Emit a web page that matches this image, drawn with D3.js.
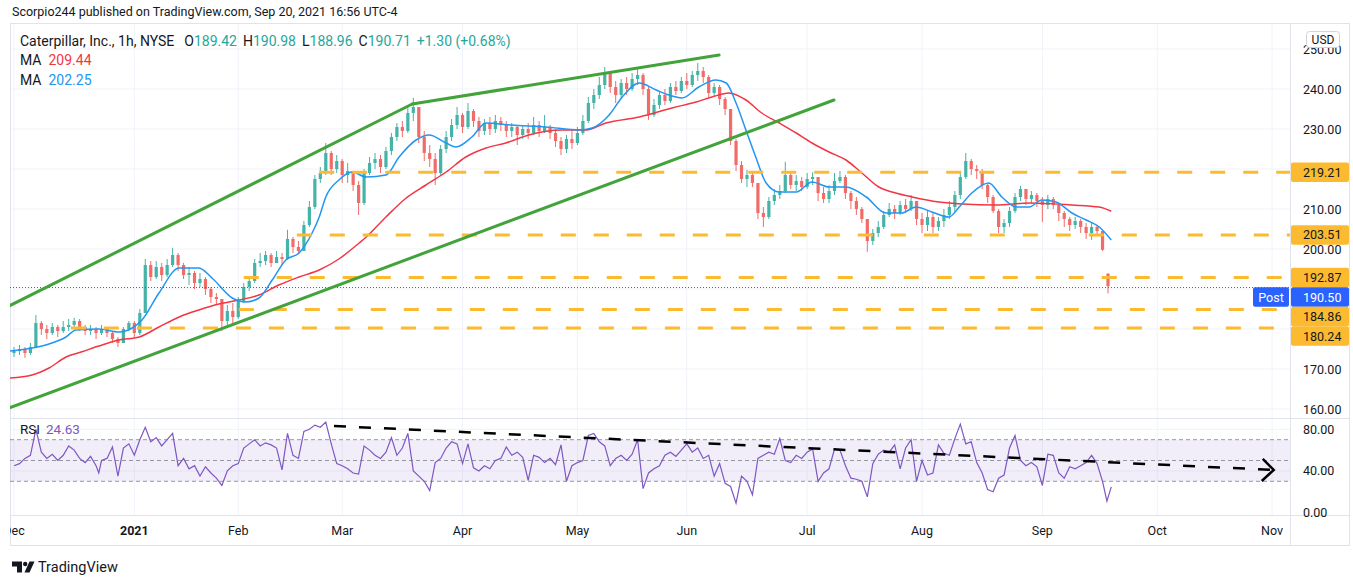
<!DOCTYPE html>
<html><head><meta charset="utf-8">
<script src="https://cdn.jsdelivr.net/npm/d3@7/dist/d3.min.js"></script>
<style>body{margin:0;background:#fff;overflow:hidden}svg{display:block;font-family:Roboto,"Noto Sans",sans-serif}</style>
</head><body><svg id="c" width="1353" height="579"></svg>
<script>
// ---------- DATA (trading-day index 0 = 1 Dec 2020, 200 = 20 Sep 2021) ----------
const closes = [174.5,175.0,174.0,175.5,181.5,180.0,179.0,180.5,179.5,180.5,
181.0,182.0,180.5,179.5,180.0,179.0,180.0,179.0,177.5,176.5,
180.0,181.5,179.0,184.0,196.0,193.0,195.5,193.5,196.0,198.5,
196.0,193.5,194.0,191.5,192.5,190.0,188.0,187.5,182.0,184.5,
183.0,187.0,190.5,192.0,196.5,197.0,198.5,196.5,198.0,197.5,
202.5,200.5,199.5,206.0,210.5,217.5,219.0,224.0,220.0,222.0,
218.5,219.5,216.0,211.5,219.0,221.5,222.5,220.5,224.5,228.0,
230.5,229.5,234.0,235.5,228.0,224.0,222.5,219.0,225.0,228.0,
231.0,233.5,230.5,234.5,232.0,229.5,231.5,230.0,232.0,231.0,
229.5,230.5,228.5,230.0,229.0,231.0,229.5,230.5,229.0,227.0,
225.0,227.5,226.5,229.0,232.0,236.5,238.5,241.0,244.0,240.5,
238.5,241.5,240.0,242.5,243.5,240.0,233.5,236.0,238.5,237.0,
240.5,239.5,242.0,241.0,243.5,244.5,243.0,239.0,240.5,237.5,
235.0,227.0,221.0,217.5,218.5,216.5,209.0,208.0,212.0,213.5,
214.5,218.5,216.0,217.0,215.5,217.5,218.0,214.0,212.5,214.5,
217.0,218.0,214.0,212.0,210.0,207.5,202.0,204.0,205.5,208.5,
210.0,209.0,211.0,210.0,212.0,207.5,206.0,208.0,205.5,207.0,
208.5,210.5,213.5,218.0,222.0,220.0,219.5,216.0,213.0,209.5,
205.5,206.5,209.5,213.0,215.0,212.5,213.5,212.0,211.0,212.5,
211.0,209.0,207.5,206.0,207.0,205.5,204.0,205.5,204.5,199.8,
190.7];
const opens = [174.0,174.5,175.0,174.0,175.5,181.5,180.0,179.0,180.5,179.5,
180.5,181.0,182.0,180.5,179.5,180.0,179.0,180.0,179.0,177.5,
176.5,180.0,181.5,179.0,184.0,196.0,193.0,195.5,193.5,196.0,
198.5,196.0,193.5,194.0,191.5,192.5,190.0,188.0,187.5,182.0,
184.5,183.0,187.0,190.5,192.0,196.5,197.0,198.5,196.5,198.0,
197.5,202.5,200.5,199.5,206.0,210.5,217.5,219.0,224.0,220.0,
222.0,218.5,219.5,216.0,211.5,219.0,221.5,222.5,220.5,224.5,
228.0,230.5,229.5,234.0,235.5,228.0,224.0,222.5,219.0,225.0,
228.0,231.0,233.5,230.5,234.5,232.0,229.5,231.5,230.0,232.0,
231.0,229.5,230.5,228.5,230.0,229.0,231.0,229.5,230.5,229.0,
227.0,225.0,227.5,226.5,229.0,232.0,236.5,238.5,241.0,244.0,
240.5,238.5,241.5,240.0,242.5,243.5,240.0,233.5,236.0,238.5,
237.0,240.5,239.5,242.0,241.0,243.5,244.5,243.0,239.0,240.5,
237.5,235.0,227.0,221.0,217.5,218.5,216.5,209.0,208.0,212.0,
213.5,214.5,218.5,216.0,217.0,215.5,217.5,218.0,214.0,212.5,
214.5,217.0,218.0,214.0,212.0,210.0,207.5,202.0,204.0,205.5,
208.5,210.0,209.0,211.0,210.0,212.0,207.5,206.0,208.0,205.5,
207.0,208.5,210.5,213.5,218.0,222.0,220.0,219.5,216.0,213.0,
209.5,205.5,206.5,209.5,213.0,215.0,212.5,213.5,212.0,211.0,
212.5,211.0,209.0,207.5,206.0,207.0,205.5,204.0,205.5,204.5,
193.8];
const highs = [175.5,176.0,175.5,176.5,183.5,182.0,181.0,181.5,181.0,182.0,
182.5,182.8,182.5,181.0,181.0,180.5,181.0,180.5,179.5,178.0,
180.5,182.0,182.0,185.0,197.5,197.0,197.0,196.5,197.5,200.3,
199.0,196.5,195.5,194.5,194.0,193.0,190.5,189.0,187.5,186.0,
186.5,188.0,191.5,193.0,197.5,199.0,199.5,199.0,199.5,199.0,
204.8,203.0,202.0,207.0,212.0,218.5,220.5,226.5,224.5,223.5,
222.5,221.5,219.5,217.0,220.0,223.0,224.0,223.5,225.5,229.0,
231.5,232.0,236.0,237.8,235.5,229.5,226.0,224.0,226.0,229.5,
232.5,235.5,234.0,236.5,235.0,233.0,232.5,233.0,233.5,233.0,
232.0,231.5,231.0,231.0,231.5,233.0,232.0,233.5,231.0,230.0,
228.0,228.5,229.5,230.5,233.5,238.0,240.0,243.0,245.5,244.5,
242.0,242.5,243.0,244.0,245.3,244.0,240.5,237.5,239.5,240.0,
241.5,242.0,243.0,244.0,244.5,246.5,245.5,243.5,241.5,241.0,
238.0,235.0,227.5,222.0,219.8,219.5,216.5,210.5,213.0,215.0,
216.0,221.8,219.5,218.5,218.0,219.0,219.2,218.0,215.5,216.0,
219.0,219.5,218.5,214.5,213.0,210.5,207.5,205.0,207.0,209.5,
211.5,211.0,212.0,212.5,213.5,212.0,209.0,209.5,209.0,208.0,
210.0,212.0,214.5,219.5,224.0,222.5,221.0,220.0,216.5,213.5,
210.0,207.5,210.5,214.0,215.8,215.0,214.5,214.0,213.0,213.5,
213.0,211.5,209.5,208.0,208.0,207.5,206.5,206.5,206.0,204.5,
194.0];
const lows = [173.0,173.5,172.8,173.5,175.5,178.5,177.5,178.5,178.0,179.0,
179.5,180.0,179.5,178.5,178.5,177.5,178.5,178.0,176.5,175.5,
176.5,179.5,178.0,178.5,184.0,192.0,192.5,192.0,193.0,195.5,
194.5,192.5,191.0,190.0,190.5,188.5,186.5,186.0,179.5,180.5,
181.0,182.5,186.5,189.5,191.5,195.5,196.0,195.5,196.5,196.0,
197.5,199.0,198.8,199.5,205.5,210.0,216.5,218.5,218.5,219.0,
216.5,216.5,214.5,208.5,211.0,218.5,220.0,219.0,220.0,223.5,
227.0,228.0,229.0,232.0,226.5,222.0,220.5,216.0,218.5,224.0,
227.0,230.0,229.0,230.0,230.5,228.0,228.5,228.5,229.0,229.5,
228.0,228.0,226.0,227.5,227.5,228.5,228.0,229.0,227.5,225.5,
223.5,224.0,225.0,226.0,228.5,231.5,235.0,237.5,240.0,239.0,
236.5,237.5,238.5,239.5,241.0,238.5,232.3,233.0,235.0,236.0,
236.5,238.5,239.0,240.0,240.5,242.0,241.5,238.0,238.0,236.0,
233.5,226.0,219.5,216.5,215.5,215.5,207.5,205.5,207.5,211.0,
212.5,214.0,215.0,214.5,214.5,215.0,216.0,212.0,211.5,211.5,
213.5,216.5,212.5,210.0,208.5,206.5,199.3,201.0,203.0,205.0,
208.0,207.5,208.5,209.0,209.5,206.0,204.0,204.5,204.0,204.5,
205.5,207.5,209.0,212.5,217.5,218.5,217.5,215.0,211.5,209.0,
204.0,204.0,205.5,209.0,212.0,211.0,211.5,210.5,206.8,210.0,
210.0,207.0,205.5,204.5,205.0,204.0,202.5,202.3,203.5,199.5,
188.9];
// moving averages: [day, value]
const maRed = [[-0.8,167.75],[3.3,168.5],[6.4,170.25],[9.5,173],[12.4,174.3],[15.5,175.75],[19.2,177.25],[22.9,178],[26.5,180.5],[30.2,183],[33.8,184.75],[37.5,186.25],[41.1,187.25],[44.8,188.5],[48.4,191],[52.1,193],[55.8,194.75],[59.4,197.5],[63.1,201.5],[64.4,203],[68,208],[71.7,212.75],[75.3,216],[79,219.25],[82.6,223],[86.3,225.25],[89.9,226.5],[94.1,228.5],[100.2,229.75],[104.6,229.75],[108.2,231.5],[114.3,233],[120.3,235.25],[124.7,236.75],[127.6,238],[130.7,239],[133.8,237.25],[136.7,234],[139.9,231.5],[143,229],[145.9,226.5],[149,224.25],[152.1,222.25],[155,219],[158.1,215.5],[161.2,214],[164.2,213],[169.1,211.75],[173.3,211.25],[179.5,211],[185.6,211.5],[193.4,211],[198.4,210.5],[200.6,209.44]];
const maBlue = [[-0.8,174.5],[3.3,175.25],[6.4,176.25],[9.5,178],[11.3,179.75],[15.5,180],[19.2,179.25],[21.6,180.25],[23.4,182.25],[26.5,189],[30.2,195.25],[33.8,195.25],[36.2,192.75],[39.9,187.75],[42.4,186.75],[44.8,187.75],[47.2,192.25],[49.7,197.25],[52.1,199],[54.5,204],[55.8,208],[57,213],[59.4,217.25],[61.8,219.25],[64.4,218],[68,218.5],[70.4,223],[73.5,227.25],[75.9,228.5],[79,226.5],[80.8,225.5],[83.7,228],[86.3,231.5],[91,231],[97.3,230.5],[103.3,229.75],[105.7,230.25],[108.8,233.5],[111.2,238],[114.3,241.5],[117.4,239.75],[119.7,238.5],[122.1,237.75],[125.2,240.5],[128.3,242.25],[130.2,241.5],[132,236.5],[133.8,229.75],[135.6,223],[137.5,216.5],[139.9,214.25],[143,214.25],[145.9,216.75],[149,215.5],[152.1,215.5],[155.8,213],[159.4,209],[162.3,209],[164.9,210.5],[167.8,209.25],[170.9,208],[172.8,210.5],[175.1,214],[178.2,216.5],[180.6,213],[183.2,210.5],[185.6,210.5],[187.9,212.25],[190.5,211.75],[193.4,209],[196,207.25],[198.4,205.5],[200.6,202.25]];
// RSI(14): [day, value]
const rsi = [[0,45],[1,47],[2,52],[3,55],[4,80],[5,58],[6,52],[7,56],[8,50],[9,55],[10,64],[11,60],[12,52],[13,48],[14,54],[15,45],[15.5,38],[16,50],[17,52],[18,63],[19,35],
[20,62],[21,66],[22,55],[23,70],[24,82],[25,68],[26,72],[27,64],[28,70],[29,76],[30,45],[31,52],[32,42],[33,45],[34,35],[35,44],[36,38],[37,33],[38,26],[39,40],
[40,45],[41,47],[42,62],[43,66],[44,70],[45,64],[46,67],[47,65],[48,62],[49,41],[50,76],[51,55],[52,52],[53,78],[54,80],[55,84],[56,82],[57,87],[58,66],[59,47],
[60,45],[61,42],[62,38],[63,37],[64,64],[65,60],[66,55],[67,52],[68,58],[69,72],[70,55],[71,62],[72,76],[73,40],[74,35],[75,30],[76,21],[77,48],[78,52],[79,62],
[80,68],[81,66],[82,47],[83,66],[84,43],[85,40],[86,45],[87,42],[88,50],[89,52],[90,63],[91,55],[92,58],[93,53],[94,31],[95,55],[96,53],[97,48],[98,52],[99,46],
[100,65],[101,30],[102,45],[103,48],[104,50],[105,74],[106,76],[107,68],[108,64],[109,45],[110,52],[111,55],[112,50],[113,56],[114,70],[115,23],[116,38],[117,42],[118,45],[119,55],
[120,58],[121,54],[122,60],[123,66],[124,58],[125,62],[126,52],[127,55],[128,35],[129,47],[130,28],[131,25],[132,9],[133,35],[134,30],[135,17],[136,52],[137,55],[138,58],[139,56],
[140,71],[141,50],[142,48],[143,55],[144,52],[145,58],[146,61],[147,30],[148,38],[149,42],[150,61],[151,60],[152,45],[153,33],[154,32],[155,30],[156,15],[157,47],[158,56],[159,60],
[160,58],[161,65],[162,42],[163,62],[164,70],[165,30],[166,50],[167,36],[168,38],[169,65],[170,57],[171,55],[172,71],[173,85],[174,66],[175,68],[176,48],[177,38],[178,22],[179,20],
[180,33],[181,36],[182,62],[183,74],[184,50],[185,45],[186,48],[187,44],[188,26],[189,56],[190,55],[191,38],[192,33],[193,44],[194,42],[195,45],[196,48],[197,55],[198,47],[199,30],
[199.8,11],[200.6,24.63]];
// horizontal levels: [price, start day]
const levels = [[219.21,55.8],[203.51,51.7],[192.87,42.0],[184.86,41.1],[180.24,10.4]];
const lastPrice = 190.50;
// channel trend lines: [[day,price],[day,price]]
const trendLines = [[[-0.9,160.25],[149.9,237.25]],[[-0.9,185.75],[72.8,236.25]],[[72.8,236.25],[128.9,248.5]]];
const rsiTrend = [[58.5,83.2],[230.3,40.9]];
const monthTicks = [["Dec",0],["2021",22],["Feb",41],["Mar",60],["Apr",82],["May",103],["Jun",123],["Jul",145],["Aug",166],["Sep",188],["Oct",209],["Nov",230]];
const priceTicks = [160,170,180,190,200,210,220,230,240,250];
const priceTickLabels = [160,170,200,210,230,240,250];
const rsiTicks = [0,40,80];
const legendOHLC = [["O","189.42"],["H","190.98"],["L","188.96"],["C","190.71"]];

// ---------- LAYOUT ----------
const svg = d3.select("#c");
const L=10, R=1290, RE=1350, T=23, MB=418, RB=515, AB=546;
const x = d3.scaleLinear().domain([0,230]).range([14,14+230*5.47]);
const y = d3.scaleLinear().domain([160,250]).range([409,49]);
const yr = d3.scaleLinear().domain([0,80]).range([512.5,429.3]);
const grid = "#f0f3fa", border = "#e0e3eb", txt = "#131722";
const up="#26a69a", dn="#ef5350", redMA="#f23645", blueMA="#2196f3", orange="#fbba2f", green="#43a33b", purple="#7e57c2";

svg.append("text").attr("x",12).attr("y",16).attr("font-size",12.5).attr("fill",txt).text("Scorpio244 published on TradingView.com, Sep 20, 2021 16:56 UTC-4");

const defs = svg.append("defs");
defs.append("clipPath").attr("id","cm").append("rect").attr("x",L).attr("y",T).attr("width",R-L).attr("height",MB-T);
defs.append("clipPath").attr("id","cr").append("rect").attr("x",L).attr("y",MB).attr("width",R-L).attr("height",RB-MB);
defs.append("clipPath").attr("id","cx").append("rect").attr("x",L).attr("y",RB).attr("width",R-L).attr("height",AB-RB);

// grid
const g = svg.append("g");
g.selectAll(".hg").data(priceTicks).join("line").attr("x1",L).attr("x2",R).attr("y1",d=>y(d)).attr("y2",d=>y(d)).attr("stroke",grid);
g.selectAll(".rg").data([40,80]).join("line").attr("x1",L).attr("x2",R).attr("y1",d=>yr(d)).attr("y2",d=>yr(d)).attr("stroke",grid);
g.selectAll(".vg").data(monthTicks).join("line").attr("x1",d=>x(d[1])).attr("x2",d=>x(d[1])).attr("y1",T).attr("y2",RB).attr("stroke",grid);

// frame
svg.append("rect").attr("x",L+0.5).attr("y",T+0.5).attr("width",RE-L-1).attr("height",AB-T-1).attr("fill","none").attr("stroke",border);
svg.append("line").attr("x1",L).attr("x2",RE).attr("y1",MB+0.5).attr("y2",MB+0.5).attr("stroke",border);
svg.append("line").attr("x1",L).attr("x2",RE).attr("y1",RB+0.5).attr("y2",RB+0.5).attr("stroke",border);
svg.append("line").attr("x1",R+0.5).attr("x2",R+0.5).attr("y1",T).attr("y2",AB).attr("stroke",border);

// candles
const main = svg.append("g").attr("clip-path","url(#cm)");
const candles = closes.map((c,i)=>({i,o:opens[i],h:Math.max(highs[i],opens[i],c),l:Math.min(lows[i],opens[i],c),c}));
const cg = main.append("g").attr("opacity",0.85);
cg.selectAll("line").data(candles).join("line").attr("x1",d=>x(d.i)).attr("x2",d=>x(d.i)).attr("y1",d=>y(d.h)).attr("y2",d=>y(d.l)).attr("stroke",d=>d.c>=d.o?up:dn).attr("stroke-width",1);
cg.selectAll("rect").data(candles).join("rect").attr("x",d=>x(d.i)-1.6).attr("width",3.2).attr("y",d=>y(Math.max(d.o,d.c))).attr("height",d=>Math.max(1,Math.abs(y(d.o)-y(d.c)))).attr("fill",d=>d.c>=d.o?up:dn);

// MAs
const ln = d3.line().x(d=>x(d[0])).y(d=>y(d[1])).curve(d3.curveMonotoneX);
main.append("path").attr("d",ln(maRed)).attr("fill","none").attr("stroke",redMA).attr("stroke-width",1.5);
main.append("path").attr("d",ln(maBlue)).attr("fill","none").attr("stroke",blueMA).attr("stroke-width",1.5);

// last price dotted line
main.append("line").attr("x1",L).attr("x2",R).attr("y1",Math.round(y(lastPrice))+0.5).attr("y2",Math.round(y(lastPrice))+0.5).attr("stroke","#2962ff").attr("stroke-dasharray","1,2");

// levels
main.selectAll(".lv").data(levels).join("line").attr("x1",d=>x(d[1])).attr("x2",R).attr("y1",d=>y(d[0])).attr("y2",d=>y(d[0])).attr("stroke",orange).attr("stroke-width",3).attr("stroke-dasharray","15,18");
// trend lines
main.selectAll(".tl").data(trendLines).join("line").attr("x1",d=>x(d[0][0])).attr("y1",d=>y(d[0][1])).attr("x2",d=>x(d[1][0])).attr("y2",d=>y(d[1][1])).attr("stroke",green).attr("stroke-width",3).attr("stroke-linecap","round");

// RSI pane
const rp = svg.append("g").attr("clip-path","url(#cr)");
rp.append("rect").attr("x",L).attr("width",R-L).attr("y",yr(70)).attr("height",yr(30)-yr(70)).attr("fill","rgba(126,87,194,0.1)");
rp.selectAll(".rl").data([70,50,30]).join("line").attr("x1",L).attr("x2",R).attr("y1",d=>yr(d)).attr("y2",d=>yr(d)).attr("stroke","#9598a1").attr("stroke-dasharray","4,3");
const rl = d3.line().x(d=>x(d[0])).y(d=>yr(d[1]));
rp.append("path").attr("d",rl(rsi)).attr("fill","none").attr("stroke",purple).attr("stroke-width",1.2);
rp.append("line").attr("x1",x(rsiTrend[0][0])).attr("y1",yr(rsiTrend[0][1])).attr("x2",x(rsiTrend[1][0])).attr("y2",yr(rsiTrend[1][1])).attr("stroke","#000").attr("stroke-width",2.5).attr("stroke-dasharray","12,13");
{
  const ex=x(rsiTrend[1][0]), ey=yr(rsiTrend[1][1]);
  rp.append("path").attr("d",`M${ex-11},${ey-11}L${ex},${ey}L${ex-12},${ey+11}`).attr("fill","none").attr("stroke","#000").attr("stroke-width",2.5);
}

// x axis labels
svg.append("g").attr("clip-path","url(#cx)").selectAll("text").data(monthTicks).join("text")
  .attr("x",d=>x(d[1])).attr("y",535).attr("text-anchor","middle").attr("font-size",12.5).attr("fill",txt)
  .attr("font-weight",d=>d[0]==="2021"?"bold":"normal").text(d=>d[0]);

// price axis labels (ticks hidden behind level boxes are not drawn)
svg.selectAll(".pt").data(priceTickLabels).join("text").attr("x",1303).attr("y",d=>y(d)+4.5).attr("font-size",12.5).attr("fill",txt).text(d=>d.toFixed(2));
svg.selectAll(".rt").data(rsiTicks).join("text").attr("x",1303).attr("y",d=>yr(d)+4.5).attr("font-size",12.5).attr("fill",txt).text(d=>d.toFixed(2));

// axis boxes with overlap shifting
const boxes = levels.map(d=>({v:d[0],c:orange,t:txt})).concat([{v:lastPrice,c:"#2962ff",t:"#fff",post:true}]);
boxes.forEach(b=>b.yc=y(b.v));
boxes.sort((a,b)=>a.yc-b.yc);
const BH=19.5;
for(let k=1;k<boxes.length;k++){ if(boxes[k].yc-boxes[k-1].yc<BH) boxes[k].yc=boxes[k-1].yc+BH; }
const bx = svg.append("g");
boxes.forEach(b=>{
  bx.append("rect").attr("x",R+1).attr("y",b.yc-BH/2).attr("width",RE-R-2).attr("height",BH).attr("rx",2).attr("fill",b.c);
  bx.append("text").attr("x",1303).attr("y",b.yc+4.5).attr("font-size",12.5).attr("fill",b.t).text(b.v.toFixed(2));
  if(b.post){
    bx.append("rect").attr("x",1253).attr("y",b.yc-BH/2).attr("width",36).attr("height",BH).attr("rx",2).attr("fill",b.c);
    bx.append("text").attr("x",1271).attr("y",b.yc+4.5).attr("text-anchor","middle").attr("font-size",12.5).attr("fill","#fff").text("Post");
  }
});
// USD box
svg.append("rect").attr("x",1306.5).attr("y",31.5).attr("width",33).attr("height",16).attr("rx",3).attr("fill","#fff").attr("stroke","#d1d4dc");
svg.append("text").attr("x",1323).attr("y",44).attr("text-anchor","middle").attr("font-size",12).attr("fill",txt).text("USD");

// legends
const lg = svg.append("text").attr("x",20).attr("y",46).attr("font-size",14).attr("fill",txt);
lg.append("tspan").text("Caterpillar, Inc., 1h, NYSE");
legendOHLC.forEach(([k,v],j)=>{ lg.append("tspan").attr("dx",j===0?10:6).text(k); lg.append("tspan").attr("fill",up).text(v); });
lg.append("tspan").attr("dx",6).attr("fill",up).text("+1.30 (+0.68%)");
[[65,"209.44",redMA],[85,"202.25",blueMA]].forEach(([yy,v,c])=>{
  const t=svg.append("text").attr("x",20).attr("y",yy).attr("font-size",14).attr("fill",txt);
  t.append("tspan").text("MA");
  t.append("tspan").attr("dx",7).attr("fill",c).text(v);
});
const rt = svg.append("text").attr("x",20).attr("y",434).attr("font-size",13.5).attr("fill",txt);
rt.append("tspan").text("RSI"); rt.append("tspan").attr("dx",6).attr("fill",purple).text(rsi[rsi.length-1][1].toFixed(2));

// TradingView logo
const lgG = svg.append("g").attr("fill","#131722");
lgG.append("path").attr("d","M12 561.5h10v11h-5v-6h-5z");
lgG.append("circle").attr("cx",25.2).attr("cy",564).attr("r",2.2);
lgG.append("path").attr("d","M29.5 561.5h5l-5 11h-5z");
svg.append("text").attr("x",38).attr("y",572).attr("font-size",14.5).attr("fill",txt).text("TradingView");
</script></body></html>
